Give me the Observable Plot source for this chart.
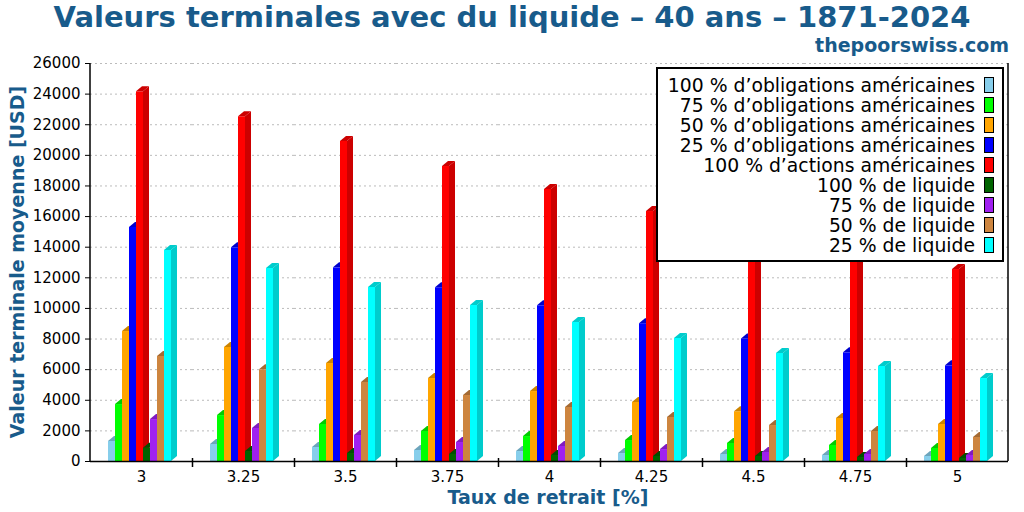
<!DOCTYPE html>
<html>
<head>
<meta charset="utf-8">
<script src="https://cdn.jsdelivr.net/npm/d3@7"></script>
<script src="https://cdn.jsdelivr.net/npm/@observablehq/plot@0.6"></script>
<style>
  body { margin: 0; background: #fff; font-family: "DejaVu Sans", sans-serif; }
  #wrap { position: relative; width: 1024px; height: 512px; overflow: hidden; background: #fff; }
  #title { position: absolute; left: 0; top: 0; width: 1024px; text-align: center; font-weight: bold; font-size: 29px; line-height: 34px; color: #185b8b; white-space: nowrap; }
  #sub { position: absolute; right: 15px; top: 33px; font-weight: bold; font-size: 19px; line-height: 24px; color: #185b8b; }
  #chart { position: absolute; left: 0; top: 56px; }
  #legend { position: absolute; left: 656px; top: 67px; width: 348px; height: 195px; border: 2px solid #000; background: #fff; padding-top: 6.5px; box-sizing: border-box; }
  #legend .row { position: relative; height: 20px; line-height: 20px; font-size: 18.8px; color: #000; }
  #legend .row span { position: absolute; right: 27px; top: 0; white-space: nowrap; }
  #legend .row i { position: absolute; left: 326px; top: 1.5px; width: 8px; height: 14px; border: 1.5px solid #000; }
</style>
</head>
<body>
<div id="wrap">
  <div id="title">Valeurs terminales avec du liquide – 40 ans – 1871-2024</div>
  <div id="sub">thepoorswiss.com</div>
  <div id="chart"></div>
  <div id="legend"></div>
</div>
<script>
// Withdrawal rates (categories)
const rates = ["3", "3.25", "3.5", "3.75", "4", "4.25", "4.5", "4.75", "5"];
// Series names (legend order)
const seriesNames = [
  "100 % d’obligations américaines",
  "75 % d’obligations américaines",
  "50 % d’obligations américaines",
  "25 % d’obligations américaines",
  "100 % d’actions américaines",
  "100 % de liquide",
  "75 % de liquide",
  "50 % de liquide",
  "25 % de liquide"
];
const colors = ["#87ceeb", "#00ff00", "#ffa500", "#0000ff", "#ff0000", "#006400", "#a020f0", "#cd853f", "#00ffff"];
// Values (USD) per series, one per rate
const bonds100  = [1310, 1110, 915, 720, 650, 520, 460, 390, 330];
const bonds75   = [3720, 3000, 2420, 1960, 1630, 1370, 1180, 1050, 850];
const bonds50   = [8490, 7450, 6400, 5420, 4570, 3860, 3250, 2810, 2420];
const bonds25   = [15290, 13960, 12650, 11350, 10170, 9000, 8010, 7100, 6250];
const stocks100 = [24150, 22520, 20910, 19270, 17770, 16330, 14970, 13710, 12540];
const cash100   = [870, 650, 520, 460, 390, 330, 330, 260, 200];
const cash75    = [2740, 2160, 1700, 1240, 980, 780, 590, 460, 390];
const cash50    = [6860, 5990, 5160, 4310, 3530, 2880, 2350, 1960, 1570];
const cash25    = [13790, 12610, 11370, 10190, 9080, 8040, 7060, 6210, 5420];
const yTicks = [0, 2000, 4000, 6000, 8000, 10000, 12000, 14000, 16000, 18000, 20000, 22000, 24000, 26000];

const seriesValues = [bonds100, bonds75, bonds50, bonds25, stocks100, cash100, cash75, cash50, cash25];
const rows = [];
rates.forEach((r, i) => seriesNames.forEach((s, j) => rows.push({rate: r, series: s, value: seriesValues[j][i]})));

const W = 1024, H = 456, mT = 7, mR = 16, mB = 51, mL = 90;

const svg = Plot.plot({
  width: W, height: H,
  marginTop: mT, marginRight: mR, marginBottom: mB, marginLeft: mL,
  style: {fontFamily: "DejaVu Sans", fontSize: "15px", color: "#000", background: "#fff", overflow: "visible"},
  facet: {data: rows, x: "rate", marginTop: 0, marginRight: 0, marginBottom: 0, marginLeft: 0},
  fx: {domain: rates, padding: 0, axis: "bottom", tickSize: 0, tickPadding: 10, label: null},
  x: {domain: seriesNames, axis: null, paddingInner: 0, paddingOuter: 2.35, align: 0.46},
  y: {domain: [0, 26000], ticks: yTicks, tickSize: 5, tickPadding: 5, tickFormat: d3.format("d"), label: null},
  color: {domain: seriesNames, range: colors},
  marks: [
    Plot.ruleY(yTicks.filter(d => d > 0), {stroke: "#bbbbbb", strokeWidth: 1, strokeDasharray: "2,3"}),
    Plot.barY(rows, {x: "series", y: "value", fill: "series"}),
    Plot.ruleY([0], {stroke: "#000", strokeWidth: 1.5})
  ]
});

const ns = "http://www.w3.org/2000/svg";
function el(name, attrs) {
  const e = document.createElementNS(ns, name);
  for (const k in attrs) e.setAttribute(k, attrs[k]);
  return e;
}
// 3D faces derived from the bars Plot drew
const DX = 6, DY = 5;
const colorSet = new Set(colors.map(c => d3.rgb(c).formatHex()));
Array.from(svg.querySelectorAll("rect")).filter(r => {
  const f = r.getAttribute("fill");
  return f && f !== "none" && colorSet.has(d3.rgb(f).formatHex()) && r.hasAttribute("height");
}).forEach(rect => {
  const x = +rect.getAttribute("x"), y = +rect.getAttribute("y");
  const w = +rect.getAttribute("width"), h = +rect.getAttribute("height");
  const c = d3.rgb(rect.getAttribute("fill"));
  const dark = d3.rgb(c.r * 0.8, c.g * 0.8, c.b * 0.8).formatHex();
  const side = el("polygon", {points: `${x + w},${y} ${x + w + DX},${y - DY} ${x + w + DX},${y + h - DY} ${x + w},${y + h}`, fill: dark});
  const top = el("polygon", {points: `${x},${y} ${x + DX},${y - DY} ${x + w + DX},${y - DY} ${x + w},${y}`, fill: dark});
  rect.after(side, top);
});

// frame lines, group separator ticks and axis titles
const deco = el("g", {});
const y0 = H - mB;
deco.appendChild(el("line", {x1: mL, x2: mL, y1: mT, y2: y0, stroke: "#000", "stroke-width": 1.5}));
deco.appendChild(el("line", {x1: W - mR, x2: W - mR, y1: mT, y2: y0, stroke: "#000", "stroke-width": 1.5}));
const fxs = svg.scale("fx");
rates.slice(1).forEach(r => {
  const x = Math.round(fxs.apply(r)) + 0.5;
  deco.appendChild(el("line", {x1: x, x2: x, y1: y0 - 3, y2: y0 + 6, stroke: "#000", "stroke-width": 1.5}));
});
const xl = el("text", {x: 548, y: 448, "text-anchor": "middle", "font-weight": "bold", "font-size": 19, fill: "#185b8b"});
xl.textContent = "Taux de retrait [%]";
deco.appendChild(xl);
const yl = el("text", {transform: "translate(24,206) rotate(-90)", "text-anchor": "middle", "font-weight": "bold", "font-size": 19, fill: "#185b8b"});
yl.textContent = "Valeur terminale moyenne [USD]";
deco.appendChild(yl);
svg.appendChild(deco);

document.getElementById("chart").appendChild(svg);

// legend
const legend = document.getElementById("legend");
seriesNames.forEach((s, j) => {
  const row = document.createElement("div");
  row.className = "row";
  const sp = document.createElement("span");
  sp.textContent = s;
  const sw = document.createElement("i");
  sw.style.background = colors[j];
  row.appendChild(sp);
  row.appendChild(sw);
  legend.appendChild(row);
});
</script>
</body>
</html>
